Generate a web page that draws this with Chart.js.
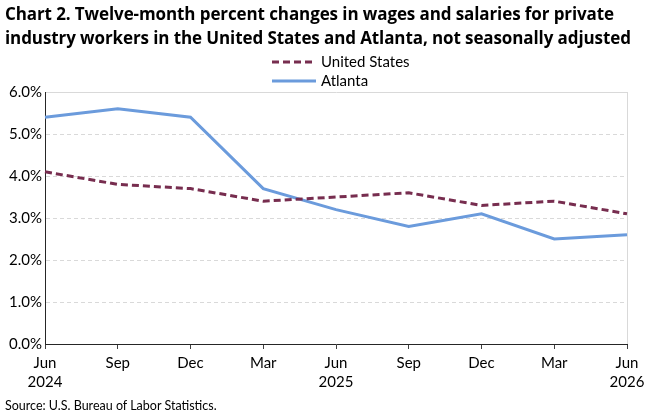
<!DOCTYPE html>
<html>
<head>
<meta charset="utf-8">
<script src="https://cdn.jsdelivr.net/npm/chart.js@4"></script>
<style>
  body { margin: 0; background: #fff; }
  #wrap { position: relative; width: 667px; height: 413px; overflow: hidden; font-family: Lato, "Liberation Sans", sans-serif; }
  #title { position: absolute; left: 5px; top: 2px; width: 662px; font-family: "Open Sans", sans-serif; font-weight: 700; font-size: 17px; line-height: 24px; color: #000; letter-spacing: -0.1px; white-space: nowrap; }
  #legend { position: absolute; left: 272px; top: 52px; font-size: 15px; color: #000; }
  .leg-row { height: 19px; line-height: 19px; display: flex; align-items: center; }
  .leg-row canvas { margin-right: 5px; }
  #source { position: absolute; left: 5px; top: 398px; font-size: 12.5px; color: #000; }
  #chart { position: absolute; left: 0; top: 0; }
</style>
</head>
<body>
<div id="wrap">
  <canvas id="chart" width="667" height="413"></canvas>
  <div id="title">Chart 2. Twelve-month percent changes in wages and salaries for private<br>industry workers in the United States and Atlanta, not seasonally adjusted</div>
  <div id="legend"></div>
  <div id="source">Source: U.S. Bureau of Labor Statistics.</div>
</div>
<script>
// 資料
const months = ['Jun', 'Sep', 'Dec', 'Mar', 'Jun', 'Sep', 'Dec', 'Mar', 'Jun'];
const years = ['2024', '', '', '', '2025', '', '', '', '2026'];
const unitedStates = [4.1, 3.8, 3.7, 3.4, 3.5, 3.6, 3.3, 3.4, 3.1];
const atlanta = [5.4, 5.6, 5.4, 3.7, 3.2, 2.8, 3.1, 2.5, 2.6];
const yTicks = [0, 1, 2, 3, 4, 5, 6];

const labels = months.map((m, i) => [m, years[i]]);

const series = [
  { label: 'United States', data: unitedStates, color: '#772D4F', dash: [7, 4] },
  { label: 'Atlanta', data: atlanta, color: '#6B9BDC', dash: [] }
];

// 圖例（直向排列）
const legendEl = document.getElementById('legend');
series.forEach(s => {
  const row = document.createElement('div');
  row.className = 'leg-row';
  const c = document.createElement('canvas');
  c.width = 44; c.height = 10;
  const g = c.getContext('2d');
  g.strokeStyle = s.color;
  g.lineWidth = 3;
  g.setLineDash(s.dash);
  g.beginPath(); g.moveTo(0, 5); g.lineTo(44, 5); g.stroke();
  row.appendChild(c);
  row.appendChild(document.createTextNode(s.label));
  legendEl.appendChild(row);
});

new Chart(document.getElementById('chart'), {
  type: 'line',
  data: {
    labels: labels,
    datasets: series.map(s => ({
      label: s.label,
      data: s.data,
      borderColor: s.color,
      backgroundColor: s.color,
      borderWidth: 3,
      borderDash: s.dash,
      pointRadius: 0,
      tension: 0,
      fill: false
    }))
  },
  options: {
    responsive: false,
    animation: false,
    layout: { padding: { top: 92, right: 40, bottom: 19, left: 0 } },
    plugins: {
      legend: { display: false },
      tooltip: { enabled: false }
    },
    scales: {
      x: {
        offset: false,
        grid: {
          color: (c) => c.index === months.length - 1 ? '#d9d9d9' : 'rgba(0,0,0,0)',
          tickColor: '#404040',
          tickLength: 5
        },
        border: { color: '#262626', width: 1 },
        ticks: {
          color: '#000',
          font: { family: 'Lato', size: 15, lineHeight: 1.3 },
          maxRotation: 0,
          autoSkip: false,
          padding: 4
        },
        afterFit: (scale) => { scale.height = 50; }
      },
      y: {
        min: 0,
        max: 6,
        afterBuildTicks: (scale) => { scale.ticks = yTicks.map(v => ({ value: v })); },
        grid: {
          color: '#d9d9d9',
          drawTicks: false
        },
        border: {
          color: '#262626',
          width: 1,
          dash: (c) => (c.tick && c.tick.value === 6) ? [] : [4, 3]
        },
        ticks: {
          color: '#000',
          font: { family: 'Lato', size: 15 },
          padding: 3,
          callback: (v) => Number(v).toFixed(1) + '%'
        },
        afterFit: (scale) => { scale.width = 45; }
      }
    }
  }
});
</script>
</body>
</html>
